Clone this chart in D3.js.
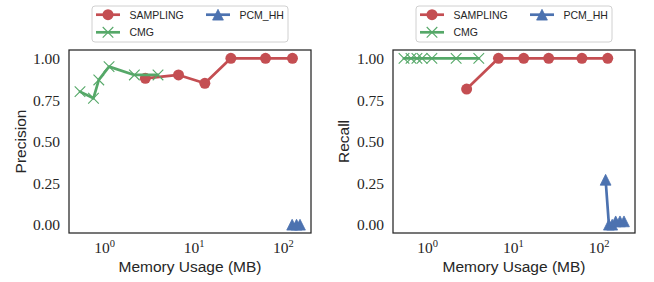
<!DOCTYPE html>
<html><head><meta charset="utf-8">
<script src="https://cdn.jsdelivr.net/npm/d3@7"></script>
<style>body{margin:0;background:#fff}svg{display:block}</style>
</head><body>
<svg id="c" width="654" height="282"></svg>
<script>
// ---- data ----
const seriesNames = ["SAMPLING", "CMG", "PCM_HH"];
const samplingMem = [2.85, 6.7, 13.2, 25.8, 63, 126];
const samplingPrecision = [0.88, 0.90, 0.85, 1.0, 1.0, 1.0];
const samplingRecall = [0.815, 1.0, 1.0, 1.0, 1.0, 1.0];
const cmgMemPrecision = [0.53, 0.75, 0.86, 1.12, 2.15, 3.95];
const cmgPrecision = [0.80, 0.76, 0.87, 0.95, 0.90, 0.90];
const cmgMemRecall = [0.53, 0.64, 0.75, 0.86, 1.12, 2.15, 3.95];
const cmgRecall = [1.0, 1.0, 1.0, 1.0, 1.0, 1.0, 1.0];
const pcmMemPrecision = [125, 140, 153];
const pcmPrecision = [0.0, 0.0, 0.0];
const pcmMemRecall = [119, 130, 142, 156, 175, 195];
const pcmRecall = [0.27, 0.0, 0.0, 0.02, 0.02, 0.02];
const yTicks = [0.0, 0.25, 0.5, 0.75, 1.0];
const xTickExps = [0, 1, 2];
const yLabels = ["Precision", "Recall"];
const xLabel = "Memory Usage (MB)";

const colors = {SAMPLING: "#C44E52", CMG: "#55A868", PCM_HH: "#4C72B0"};
const markers = {SAMPLING: "circle", CMG: "x", PCM_HH: "tri"};

const svg = d3.select("#c");

const panels = [
  {x0: 69, x1: 311, ylab: yLabels[0], ylabX: 25.5,
   series: [
     {name: "SAMPLING", x: samplingMem, y: samplingPrecision},
     {name: "CMG", x: cmgMemPrecision, y: cmgPrecision},
     {name: "PCM_HH", x: pcmMemPrecision, y: pcmPrecision}]},
  {x0: 393, x1: 635, ylab: yLabels[1], ylabX: 349,
   series: [
     {name: "SAMPLING", x: samplingMem, y: samplingRecall},
     {name: "CMG", x: cmgMemRecall, y: cmgRecall},
     {name: "PCM_HH", x: pcmMemRecall, y: pcmRecall}]}
];
const yTop = 50, yBot = 233;

function drawMarker(g, type, color, x, y) {
  if (type === "circle") {
    g.append("circle").attr("cx", x).attr("cy", y).attr("r", 5.5).attr("fill", color);
  } else if (type === "x") {
    const s = 5.3;
    g.append("path").attr("d", `M${x-s},${y-s}L${x+s},${y+s}M${x-s},${y+s}L${x+s},${y-s}`)
      .attr("stroke", color).attr("stroke-width", 1.1).attr("fill", "none");
  } else {
    const s = 5.4;
    g.append("path").attr("d", `M${x},${y-s}L${x-s},${y+s}L${x+s},${y+s}Z`)
      .attr("fill", color).attr("stroke", color).attr("stroke-width", 0.8).attr("stroke-linejoin", "miter");
  }
}

panels.forEach(p => {
  const allX = p.series.flatMap(s => s.x);
  const lmin = Math.log10(d3.min(allX)), lmax = Math.log10(d3.max(allX));
  const m = 0.05 * (lmax - lmin);
  const x = d3.scaleLog().domain([Math.pow(10, lmin - m), Math.pow(10, lmax + m)]).range([p.x0, p.x1]);
  const y = d3.scaleLinear().domain([-0.05, 1.05]).range([yBot, yTop]);
  const g = svg.append("g");

  // series
  p.series.forEach(s => {
    const c = colors[s.name];
    const pts = s.x.map((v, i) => [x(v), y(s.y[i])]);
    g.append("path").attr("d", d3.line()(pts)).attr("fill", "none")
      .attr("stroke", c).attr("stroke-width", 2.7).attr("stroke-linejoin", "round").attr("stroke-linecap", "round");
    pts.forEach(pt => drawMarker(g, markers[s.name], c, pt[0], pt[1]));
  });

  // spines
  g.append("rect").attr("x", p.x0).attr("y", yTop).attr("width", p.x1 - p.x0).attr("height", yBot - yTop)
    .attr("fill", "none").attr("stroke", "#262626").attr("stroke-width", 1.25);

  // y ticks
  yTicks.forEach(t => {
    g.append("text").attr("x", p.x0 - 9).attr("y", y(t) + 5.7).attr("text-anchor", "end")
      .attr("font-family", "Liberation Serif").attr("font-size", 15.5).attr("fill", "#262626")
      .text(d3.format(".2f")(t));
  });
  // x ticks
  xTickExps.forEach(e => {
    const t = g.append("text").attr("x", x(Math.pow(10, e))).attr("y", 253.3).attr("text-anchor", "middle")
      .attr("font-family", "Liberation Serif").attr("font-size", 15.5).attr("fill", "#262626");
    t.append("tspan").text("10");
    t.append("tspan").attr("font-size", 10.5).attr("dy", -6).text(String(e));
  });
  // axis labels
  g.append("text").attr("x", (p.x0 + p.x1) / 2).attr("y", 272).attr("text-anchor", "middle")
    .attr("font-family", "Liberation Sans").attr("font-size", 15.5).attr("fill", "#262626").text(xLabel);
  g.append("text").attr("transform", `translate(${p.ylabX},${(yTop + yBot) / 2}) rotate(-90)`)
    .attr("text-anchor", "middle").attr("font-family", "Liberation Sans").attr("font-size", 15.5)
    .attr("fill", "#262626").text(p.ylab);

  // legend
  const cx = (p.x0 + p.x1) / 2, lw = 196, lh = 36, lx = cx - lw / 2, ly = 6;
  const lg = svg.append("g");
  lg.append("rect").attr("x", lx).attr("y", ly).attr("width", lw).attr("height", lh).attr("rx", 3)
    .attr("fill", "#fff").attr("stroke", "#d0d0d0").attr("stroke-width", 1);
  const pos = [[0, 14.7], [0, 32.3], [110, 14.7]];
  seriesNames.forEach((n, i) => {
    const ox = lx + pos[i][0], oy = pos[i][1];
    lg.append("line").attr("x1", ox + 4).attr("x2", ox + 28).attr("y1", oy).attr("y2", oy)
      .attr("stroke", colors[n]).attr("stroke-width", 2.7);
    drawMarker(lg, markers[n], colors[n], ox + 16, oy);
    lg.append("text").attr("x", ox + 37.5).attr("y", oy + 3.8).attr("font-family", "Liberation Sans")
      .attr("font-size", 10.5).attr("fill", "#262626").text(n);
  });
});
</script>
</body></html>
